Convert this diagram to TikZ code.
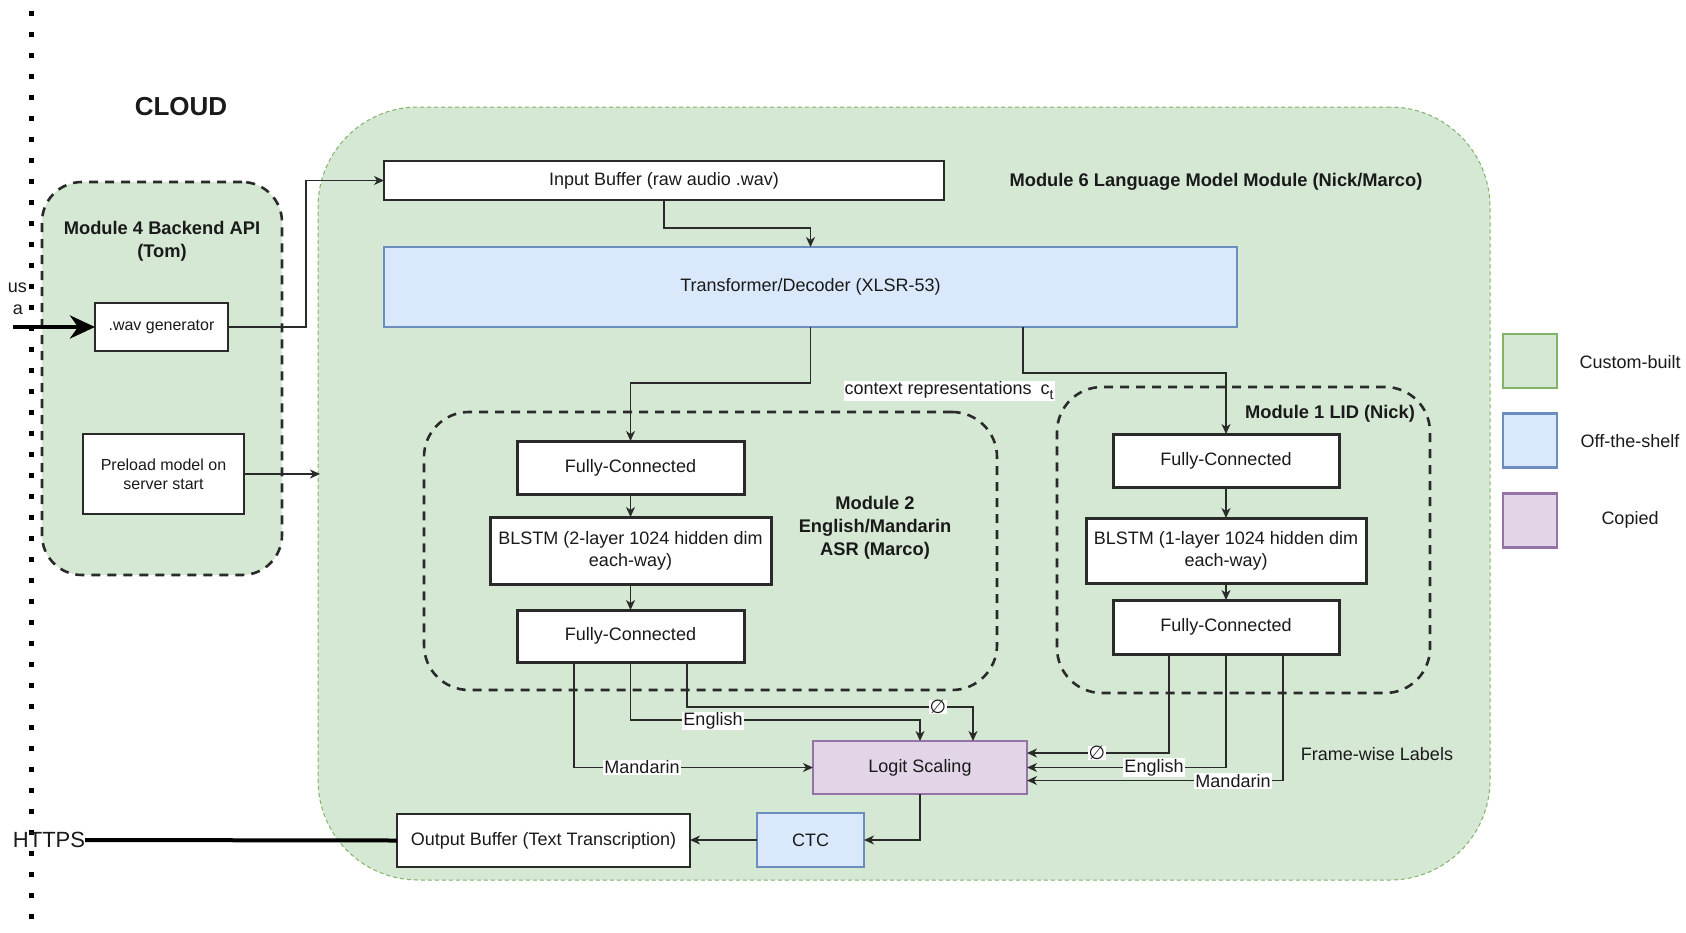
\documentclass[tikz,border=0pt]{standalone}
\usepackage{fontspec}
\setmainfont{Liberation Sans}
\newfontfamily\symfont{DejaVu Sans}
\usetikzlibrary{arrows.meta,calc}
\definecolor{gfill}{HTML}{D5E8D4}
\definecolor{gline}{HTML}{82B366}
\definecolor{bfill}{HTML}{DAE8FC}
\definecolor{bline}{HTML}{6C8EBF}
\definecolor{pfill}{HTML}{E1D5E7}
\definecolor{pline}{HTML}{9673A6}
\definecolor{ink}{HTML}{1A1A1A}
\definecolor{bd}{HTML}{2A2A2A}
\begin{document}
\begin{tikzpicture}[x=1pt,y=-1pt,
  every node/.style={font=\fontsize{18}{22}\selectfont, inner sep=0pt, outer sep=0pt, text=ink},
  wbox/.style={draw=bd, fill=white, line width=1.3pt, align=center},
  fcbox/.style={draw=bd, fill=white, line width=3pt, align=center},
  offshelf/.style={draw=bline, fill=bfill, line width=1.3pt},
  copied/.style={draw=pline, fill=pfill, line width=1.3pt},
  modbox/.style={draw=bd, line width=2.6pt, dash pattern=on 9pt off 7pt},
  arr/.style={draw=bd, line width=1.3pt, -{Stealth[length=10pt,width=9pt,inset=3pt]}},
  lbl/.style={fill=white, inner sep=1pt},
  bold/.style={font=\fontsize{18.3}{23}\selectfont\bfseries, align=center},
  nullsym/.style={fill=white, inner sep=0.3pt, font=\fontsize{19}{19}\selectfont\symfont},
  legbox/.style={line width=2.2pt, minimum width=54pt, minimum height=54pt}
]
\useasboundingbox (0,0) rectangle (1686,932);
\fill[white] (0,0) rectangle (1686,932);

% dotted boundary line
\draw[black, line width=5pt, dash pattern=on 5pt off 16pt] (31,11) -- (31,932);

% containers
\node[draw=gline, fill=gfill, line width=1pt, dash pattern=on 4pt off 3pt, rounded corners=100pt,
      minimum width=1172pt, minimum height=773pt] (m6) at (904,493.5) {};
\node[modbox, fill=gfill, rounded corners=40pt, minimum width=240pt, minimum height=393pt] (m4) at (162,378.5) {};
\node[modbox, rounded corners=45pt, minimum width=573pt, minimum height=278pt] (m2) at (710.5,551) {};
\node[modbox, rounded corners=45pt, minimum width=373pt, minimum height=306pt] (m1) at (1243.5,540) {};

% titles
\node[font=\fontsize{26}{30}\selectfont\bfseries] (cloud) at (181,107) {CLOUD};
\node[bold] (t4) at (162,241.5) {Module 4 Backend API\\(Tom)};
\node[bold] (t6) at (1216,182) {Module 6 Language Model Module (Nick/Marco)};
\node[bold] (t2) at (875,528) {Module 2\\English/Mandarin\\ASR (Marco)};
\node[bold] (t1) at (1330,414) {Module 1 LID (Nick)};

% clipped texts at the left edge
\node[anchor=east] (us) at (27,288) {us};
\node[anchor=east] (aa) at (23,310) {a};

% boxes
\node[wbox, minimum width=133pt, minimum height=48pt, font=\fontsize{16}{19}\selectfont] (wav) at (161.5,327) {.wav generator};
\node[wbox, minimum width=161pt, minimum height=80pt, font=\fontsize{16}{19}\selectfont] (pre) at (163.5,474) {Preload model on\\server start};
\node[wbox, minimum width=560pt, minimum height=39pt] (inbuf) at (664,180.5) {Input Buffer (raw audio .wav)};
\node[offshelf, minimum width=853pt, minimum height=80pt] (trans) at (810.5,287) {Transformer/Decoder (XLSR-53)};

\node[fcbox, minimum width=227pt, minimum height=53pt] (afc1) at (630.5,467.5) {Fully-Connected};
\node[fcbox, minimum width=281pt, minimum height=67pt] (ablstm) at (630.5,550.5) {BLSTM (2-layer 1024 hidden dim\\each-way)};
\node[fcbox, minimum width=227pt, minimum height=52pt] (afc2) at (630.5,636) {Fully-Connected};

\node[fcbox, minimum width=226pt, minimum height=53pt] (lfc1) at (1226,460.5) {Fully-Connected};
\node[fcbox, minimum width=280pt, minimum height=65pt] (lblstm) at (1226,550.5) {BLSTM (1-layer 1024 hidden dim\\each-way)};
\node[fcbox, minimum width=226pt, minimum height=54pt] (lfc2) at (1226,627) {Fully-Connected};

\node[copied, minimum width=214pt, minimum height=53pt] (logit) at (920,767.5) {Logit Scaling};
\node[offshelf, minimum width=107pt, minimum height=54pt] (ctc) at (810.5,840) {CTC};
\node[wbox, minimum width=293pt, minimum height=53pt] (outbuf) at (543.5,840.5) {Output Buffer (Text Transcription)};

\node[font=\fontsize{22}{26}\selectfont] (https) at (49,840) {HTTPS};

% legend
\node[legbox, draw=gline, fill=gfill] (lg1) at (1530,361) {};
\node[legbox, draw=bline, fill=bfill] (lg2) at (1530,440.5) {};
\node[legbox, draw=pline, fill=pfill] (lg3) at (1530,520.5) {};
\node (lt1) at (1630,362) {Custom-built};
\node (lt2) at (1630,441) {Off-the-shelf};
\node (lt3) at (1630,520) {Copied};

\node (fwl) at (1377,754) {Frame-wise Labels};

% connectors
\coordinate (inL) at (13,327);
\draw[black, line width=4.5pt, -{Stealth[length=25pt,width=23pt,inset=8pt]}] (inL) -- (wav.west);
\draw[black, line width=4pt] (https.east) -- (outbuf.west);

\coordinate (wbend) at (306,327);
\draw[arr] (wav.east) -- (wbend) |- (inbuf.west);
\coordinate (preEnd) at (320,474);
\draw[arr] (pre.east) -- (preEnd);

\draw[arr] (inbuf.south) -- ++(0,28) -| (trans.north);
\draw[arr] (trans.south) -- ++(0,56) -| (afc1.north);
\coordinate (t2out) at (1023,327);
\draw[arr] (t2out) -- ++(0,46) -| (lfc1.north);
\node[lbl] (ctx) at (949,391) {context representations\hspace{9pt}c\raisebox{-5pt}{\fontsize{14}{14}\selectfont t}};

\draw[arr] (afc1.south) -- (ablstm.north);
\draw[arr] (ablstm.south) -- (afc2.south |- afc2.north);
\draw[arr] (lfc1.south) -- (lblstm.north);
\draw[arr] (lblstm.south) -- (lfc2.north);

% ASR outputs
\draw[arr] ([xshift=-56.5pt]afc2.south) |- (logit.west);
\draw[arr] (afc2.south) -- ++(0,58) -| (logit.north);
\draw[arr] ([xshift=56.5pt]afc2.south) -- ++(0,45) -| ([xshift=53pt]logit.north);
\node[lbl] (lm1) at (642,767.5) {Mandarin};
\node[lbl] (le1) at (713,721) {English};
\node[nullsym] (ln1) at (938,707) {∅};

% LID outputs
\draw[arr] ([xshift=-57pt]lfc2.south) |- ([yshift=14.5pt]logit.east);
\draw[arr] (lfc2.south) |- (logit.east);
\draw[arr] ([xshift=57pt]lfc2.south) |- ([yshift=-13pt]logit.east);
\node[nullsym] (ln2) at (1097,753) {∅};
\node[lbl] (le2) at (1154,767.5) {English};
\node[lbl] (lm2) at (1233,781) {Mandarin};

\draw[arr] (logit.south) |- (ctc.east);
\draw[arr] (ctc.west) -- (outbuf.east |- ctc.west);
\end{tikzpicture}
\end{document}
